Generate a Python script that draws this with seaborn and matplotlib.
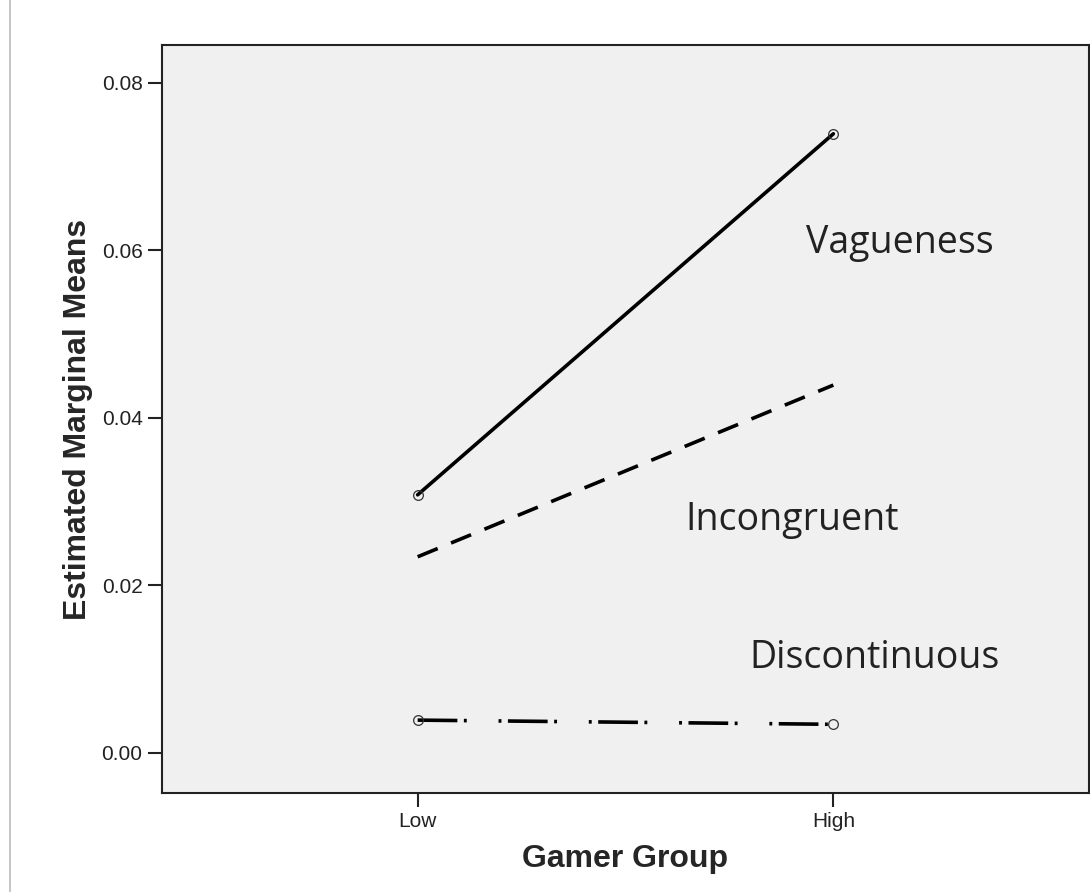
import matplotlib
matplotlib.use("Agg")
import matplotlib.pyplot as plt
import seaborn as sns
import pandas as pd
from matplotlib.lines import Line2D

groups = ["Low", "High"]
vagueness = [0.0308, 0.0739]
incongruent = [0.0234, 0.0439]
discontinuous = [0.0039, 0.0034]
series_names = ["Vagueness", "Incongruent", "Discontinuous"]
yticks = [0.00, 0.02, 0.04, 0.06, 0.08]

rows = []
for name, vals in zip(series_names, [vagueness, incongruent, discontinuous]):
    for g, v in zip(groups, vals):
        rows.append({"Gamer Group": g, "Mean": v, "Series": name})
df = pd.DataFrame(rows)

sns.set_theme(style="white")
plt.rcParams["font.family"] = ["Liberation Sans", "DejaVu Sans"]

fig = plt.figure(figsize=(10.9, 8.92), dpi=100)
ax = fig.add_axes([162/1090, 1 - 793/892, (1089-162)/1090, (793-45)/892])
ax.set_facecolor("#f0f0f0")

styles = {
    "Vagueness": dict(ls="-", marker="o"),
    "Incongruent": dict(ls=(0, (6, 4)), marker=None),
    "Discontinuous": dict(ls=(0, (11, 1.8, 0.8, 8.8, 0.8, 1.8)), marker="o"),
}
xmap = {g: i for i, g in enumerate(groups)}
df["x"] = df["Gamer Group"].map(xmap)
for name in series_names:
    sub = df[df["Series"] == name]
    st = styles[name]
    sns.lineplot(data=sub, x="x", y="Mean", ax=ax, color="black", lw=2.6,
                 linestyle=st["ls"], marker=st["marker"], markersize=7,
                 markerfacecolor="none", markeredgecolor="#333333",
                 markeredgewidth=0.9, legend=False)

ax.set_xlim(-0.615, 1.615)
ax.set_ylim(-0.0048, 0.0845)
ax.set_xticks([0, 1])
ax.set_xticklabels(groups)
ax.set_yticks(yticks)
ax.set_yticklabels([f"{t:.2f}" for t in yticks])
ax.tick_params(axis="both", direction="out", length=10, width=1.5, color="#222222",
               labelsize=15, labelcolor="#222222", bottom=True, left=True, pad=4)
for s in ax.spines.values():
    s.set_color("#222222")
    s.set_linewidth(1.5)
ax.set_xlabel("Gamer Group", fontsize=23, fontweight="bold", labelpad=9)
ax.set_ylabel("Estimated Marginal Means", fontsize=23, fontweight="bold", labelpad=6)

label_pos = {"Vagueness": (1.16, 0.0609), "Incongruent": (0.90, 0.0278), "Discontinuous": (1.10, 0.0113)}
for name in series_names:
    x, y = label_pos[name]
    ax.text(x, y, name, fontsize=27, family=["Open Sans", "DejaVu Sans"], color="#222222",
            ha="center", va="center")

fig.add_artist(Line2D([10/1090, 10/1090], [0, 1], color="#bbbbbb", lw=1.2,
                      transform=fig.transFigure))
fig.savefig("out.png", dpi=100, facecolor="white")
